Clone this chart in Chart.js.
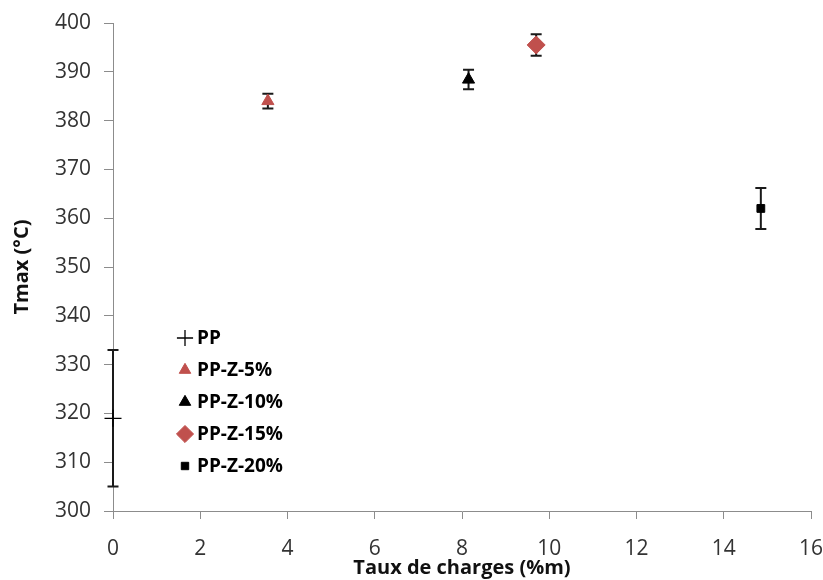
<!DOCTYPE html>
<html><head><meta charset="utf-8">
<script src="https://cdn.jsdelivr.net/npm/chart.js@4/dist/chart.umd.min.js"></script>
<style>html,body{margin:0;padding:0;background:#fff}#wrap{width:823px;height:580px}</style>
</head><body><div id="wrap"><canvas id="c"></canvas></div>
<script>
const seriesNames = ['PP', 'PP-Z-5%', 'PP-Z-10%', 'PP-Z-15%', 'PP-Z-20%'];
const xValues = [0, 3.55, 8.15, 9.7, 14.85];
const yValues = [319, 384, 388.4, 395.5, 362];
const yErrors = [14, 1.5, 2, 2.2, 4.2];
const xTicks = [0, 2, 4, 6, 8, 10, 12, 14, 16];
const yTicks = [300, 310, 320, 330, 340, 350, 360, 370, 380, 390, 400];

const RED = '#C0504D';
const styles = [
  {pointStyle: 'cross', color: '#000', radius: 8.5, borderWidth: 1.3},
  {pointStyle: 'triangle', color: RED, radius: 7, borderWidth: 1},
  {pointStyle: 'triangle', color: '#000', radius: 7, borderWidth: 1},
  {pointStyle: 'rectRot', color: RED, radius: 9, borderWidth: 1},
  {pointStyle: 'rect', color: '#000', radius: 5.5, borderWidth: 1}
];
const FONT = "'Open Sans', 'Liberation Sans', sans-serif";

const datasets = seriesNames.map((n, i) => ({
  label: n,
  data: [{x: xValues[i], y: yValues[i]}],
  pointStyle: styles[i].pointStyle,
  pointRadius: styles[i].radius,
  pointBackgroundColor: styles[i].color,
  pointBorderColor: styles[i].color,
  pointBorderWidth: styles[i].borderWidth,
  showLine: false,
  clip: false
}));

const errorBars = {
  id: 'errorBars',
  beforeDatasetsDraw(chart) {
    const ctx = chart.ctx, xs = chart.scales.x, ys = chart.scales.y;
    ctx.save();
    ctx.strokeStyle = '#1a1a1a';
    ctx.lineWidth = 2;
    for (let i = 0; i < xValues.length; i++) {
      const px = xs.getPixelForValue(xValues[i]);
      const top = ys.getPixelForValue(yValues[i] + yErrors[i]);
      const bot = ys.getPixelForValue(yValues[i] - yErrors[i]);
      ctx.beginPath();
      ctx.moveTo(px, top); ctx.lineTo(px, bot);
      ctx.moveTo(px - 5.5, top); ctx.lineTo(px + 5.5, top);
      ctx.moveTo(px - 5.5, bot); ctx.lineTo(px + 5.5, bot);
      ctx.stroke();
    }
    ctx.restore();
  }
};

const insideLegend = {
  id: 'insideLegend',
  afterDraw(chart) {
    const ctx = chart.ctx;
    ctx.save();
    ctx.font = "bold 19px " + FONT;
    ctx.textBaseline = 'middle';
    ctx.textAlign = 'left';
    const x0 = 185, y0 = 338, dy = 32;
    seriesNames.forEach((n, i) => {
      const y = y0 + i * dy;
      const st = styles[i];
      ctx.fillStyle = st.color;
      ctx.strokeStyle = st.color;
      ctx.lineWidth = st.borderWidth;
      Chart.helpers.drawPoint(ctx, {pointStyle: st.pointStyle, radius: st.radius * 0.95, borderWidth: st.borderWidth, rotation: 0}, x0, y);
      ctx.fillStyle = '#000';
      ctx.fillText(n, x0 + 12, y + 1);
    });
    ctx.restore();
  }
};

new Chart(document.getElementById('c'), {
  type: 'scatter',
  data: {datasets},
  plugins: [errorBars, insideLegend],
  options: {
    responsive: true,
    maintainAspectRatio: false,
    animation: false,
    layout: {padding: {top: 23, right: 12, left: 0, bottom: 0}},
    plugins: {legend: {display: false}, tooltip: {enabled: false}},
    scales: {
      x: {
        type: 'linear', min: 0, max: 16,
        afterBuildTicks(s) { s.ticks = xTicks.map(v => ({value: v})); },
        afterFit(s) { s.height = 69; s.paddingRight = 0; s.paddingLeft = 0; },
        grid: {display: true, drawOnChartArea: false, drawTicks: true, tickLength: 8, color: '#8c8c8c'},
        border: {color: '#8c8c8c', width: 1},
        ticks: {color: '#333', font: {family: FONT, size: 21}, padding: 17, maxRotation: 0},
        title: {display: true, text: 'Taux de charges (%m)', color: '#111', font: {family: FONT, size: 20, weight: 'bold'}, padding: {top: -6, bottom: 0}}
      },
      y: {
        type: 'linear', min: 300, max: 400,
        afterBuildTicks(s) { s.ticks = yTicks.map(v => ({value: v})); },
        afterFit(s) { s.width = 113; s.paddingTop = 0; s.paddingBottom = 0; },
        grid: {display: true, drawOnChartArea: false, drawTicks: true, tickLength: 9, color: '#8c8c8c'},
        border: {color: '#8c8c8c', width: 1},
        ticks: {color: '#333', font: {family: FONT, size: 21}, padding: 13},
        title: {display: true, text: 'Tmax (°C)', color: '#111', font: {family: FONT, size: 20, weight: 'bold'}, padding: {top: 10, bottom: 0}}
      }
    }
  }
});
</script>
</body></html>
